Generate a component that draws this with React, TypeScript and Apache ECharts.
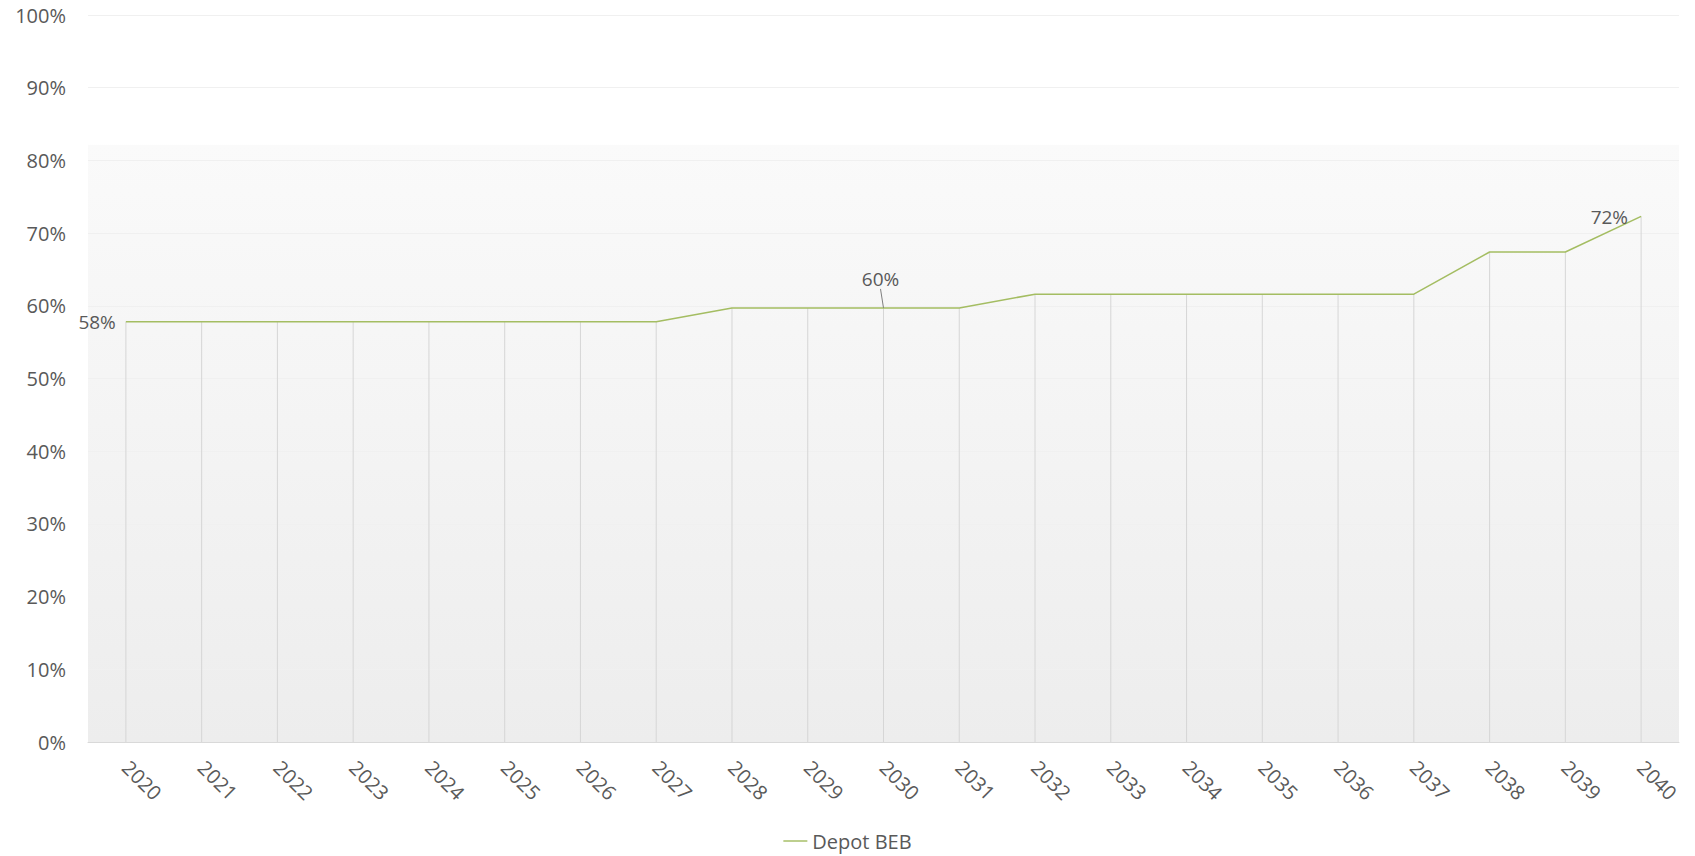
import React, { useEffect, useRef } from "react";
import * as echarts from "echarts";

const years = ["2020","2021","2022","2023","2024","2025","2026","2027","2028","2029","2030","2031","2032","2033","2034","2035","2036","2037","2038","2039","2040"];
const depotBEB = [57.8,57.8,57.8,57.8,57.8,57.8,57.8,57.8,59.7,59.7,59.7,59.7,61.6,61.6,61.6,61.6,61.6,61.6,67.4,67.4,72.3];
const labeledYears = ["2020", "2030", "2040"];
const yTicks = { min: 0, max: 100, interval: 10 };

export default function App() {
  const ref = useRef<HTMLDivElement>(null);
  useEffect(() => {
    if (!ref.current) return;
    const chart = echarts.init(ref.current, null, { renderer: "svg" });
    const font = "'Open Sans', 'Noto Sans', sans-serif";
    const textColor = "#595959";
    const lineColor = "#a4bd62";
    const labelPos: Record<string, string> = { "2020": "left", "2030": "top", "2040": "left" };
    chart.setOption({
      animation: false,
      textStyle: { fontFamily: font },
      grid: {
        left: 88, right: 16, top: 15, bottom: 114,
        show: true,
        borderWidth: 0,
        backgroundColor: new echarts.graphic.LinearGradient(0, 0, 0, 1, [
          { offset: 0, color: "#ffffff" },
          { offset: 0.178, color: "#ffffff" },
          { offset: 0.179, color: "#fafafa" },
          { offset: 1, color: "#ededed" },
        ]),
      },
      legend: {
        data: ["Depot BEB"],
        bottom: 0,
        left: "center",
        icon: "path://M0,0 L1,0 L1,0.06 L0,0.06 Z",
        itemWidth: 24,
        itemHeight: 14,
        itemGap: 2,
        itemStyle: { color: lineColor, opacity: 1 },
        textStyle: { color: textColor, fontSize: 20, fontFamily: font },
      },
      xAxis: {
        type: "category",
        data: years,
        boundaryGap: true,
        axisLine: { show: true, lineStyle: { color: "#d9d9d9", width: 1 } },
        axisTick: { show: false },
        axisLabel: { rotate: -45, color: textColor, fontSize: 20, margin: 22, fontFamily: font, interval: 0 },
      },
      yAxis: {
        type: "value",
        min: yTicks.min,
        max: yTicks.max,
        interval: yTicks.interval,
        axisLine: { show: false },
        axisTick: { show: false },
        axisLabel: { formatter: "{value}%", color: textColor, fontSize: 20, margin: 22, fontFamily: font },
        splitLine: { show: true, lineStyle: { color: "#f0f0f0", width: 1 } },
      },
      series: [
        {
          name: "drop",
          type: "bar",
          data: depotBEB,
          barWidth: 1,
          itemStyle: { color: "#d6d6d6" },
          silent: true,
          z: 1,
        },
        {
          name: "Depot BEB",
          type: "line",
          data: depotBEB.map((v, i) => ({
            value: v,
            label: labeledYears.includes(years[i])
              ? { show: true, position: labelPos[years[i]], distance: labelPos[years[i]] === "top" ? 4 : 10 }
              : { show: false },
            labelLine: { show: years[i] === "2030" },
          })),
          symbol: "circle",
          symbolSize: 0.1,
          showSymbol: true,
          lineStyle: { color: lineColor, width: 1.5 },
          itemStyle: { color: lineColor },
          label: {
            color: textColor,
            fontSize: 19,
            fontFamily: font,
            formatter: (p: any) => Math.round(p.value) + "%",
          },
          labelLayout: (p: any) => (p.dataIndex === 10 ? { dy: -15, dx: -3 } : p.dataIndex === 20 ? { dx: -3, dy: 1 } : {}),
          labelLine: { show: false, lineStyle: { color: "#7f7f7f", width: 1 } },
          z: 3,
        },
      ],
    });
    return () => chart.dispose();
  }, []);
  return <div ref={ref} style={{ position: "absolute", left: 0, top: 0, width: 1695, height: 856 }} />;
}
